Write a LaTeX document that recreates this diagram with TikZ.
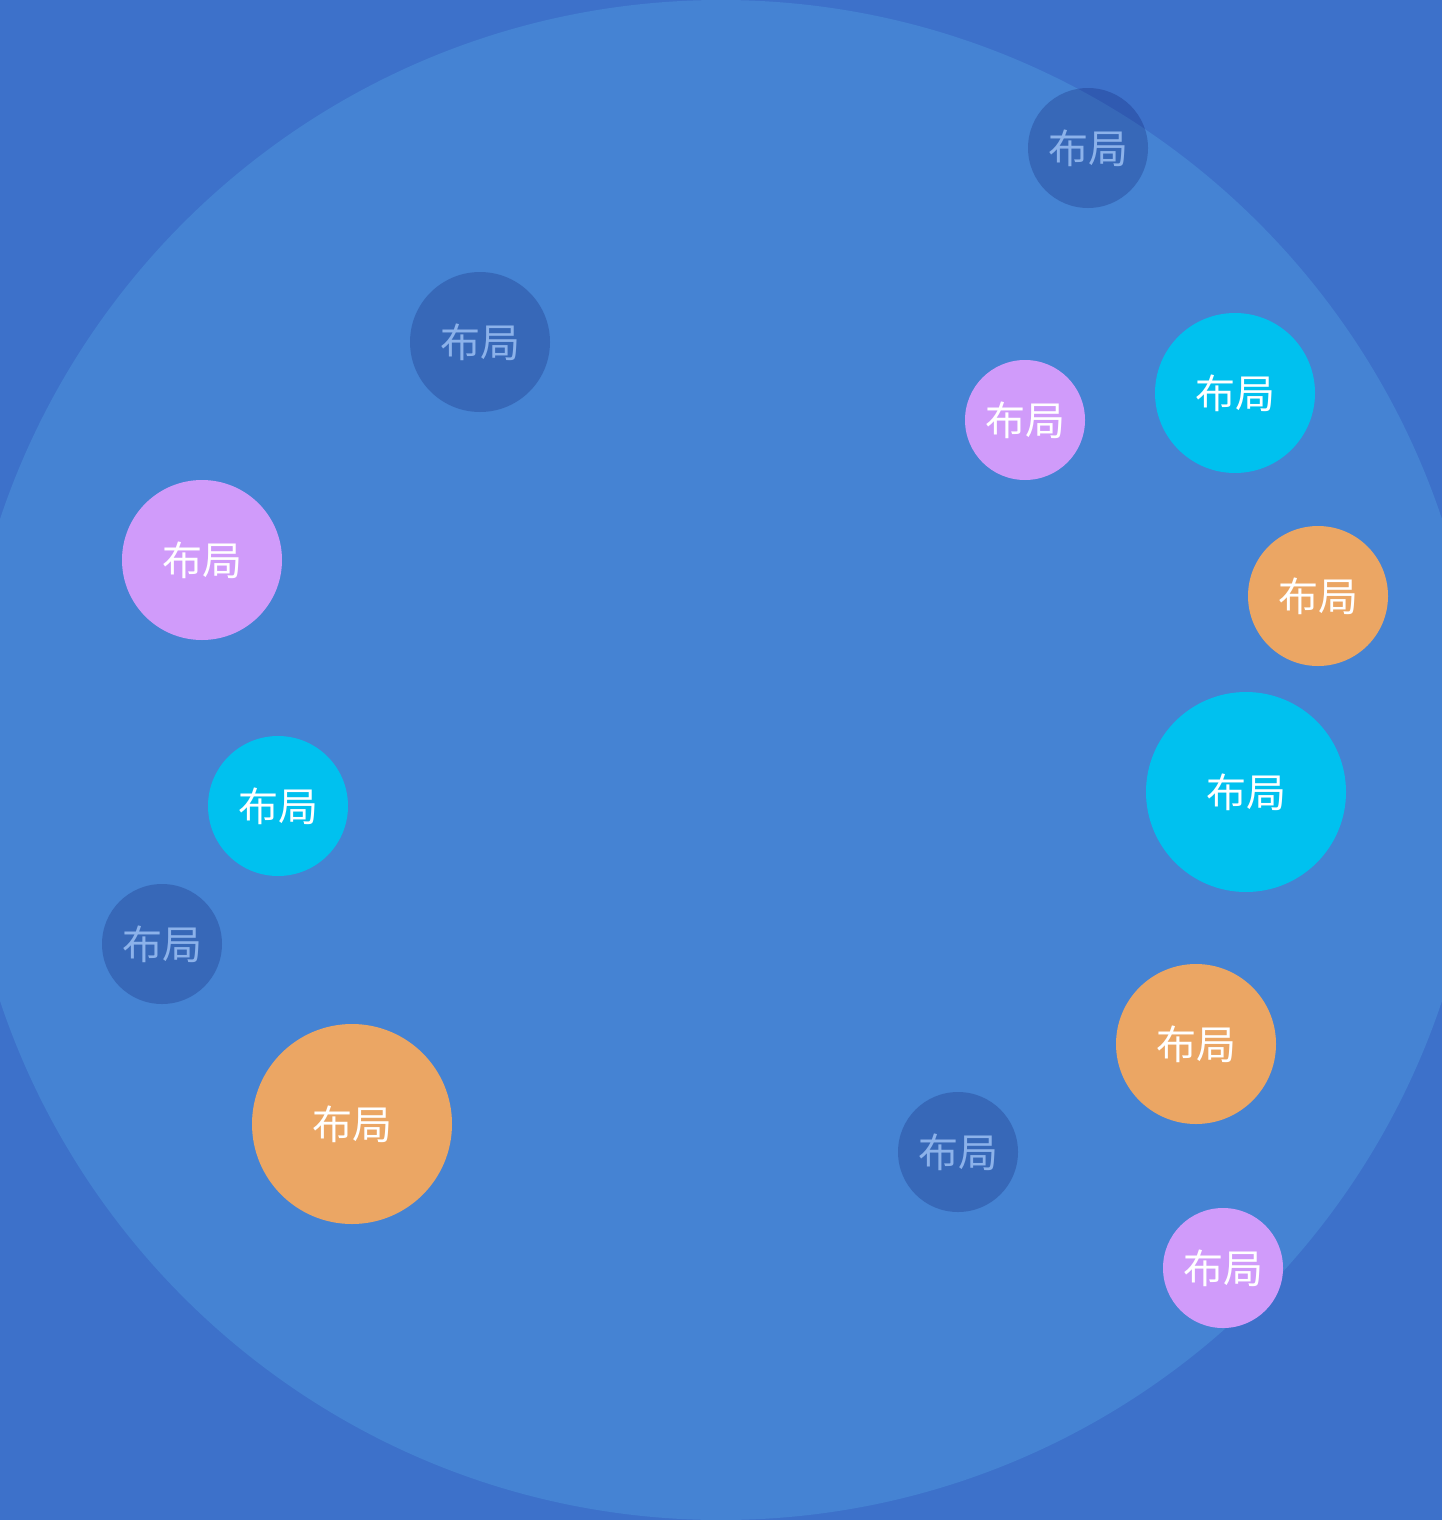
\documentclass[tikz,border=0pt]{standalone}
\usepackage{fontspec}
\usepackage{tikz}
\newfontfamily\cjk{Noto Sans CJK SC}
\definecolor{bgblue}{HTML}{3D71CA}
\definecolor{disc}{HTML}{4583D3}
\definecolor{lilac}{HTML}{D09BFA}
\definecolor{sky}{HTML}{00C1EF}
\definecolor{amber}{HTML}{EBA664}
\definecolor{duskink}{HTML}{8CB2EA}
\definecolor{navy}{HTML}{000050}
\begin{document}
\begin{tikzpicture}[x=1pt,y=-1pt,every node/.style={circle,inner sep=0pt,font=\cjk\fontsize{40}{48}\selectfont,text=white},lilacb/.style={fill=lilac,minimum size=#1},skyb/.style={fill=sky,minimum size=#1},amberb/.style={fill=amber,minimum size=#1},duskb/.style={fill=navy,fill opacity=0.2,text opacity=1,text=duskink,minimum size=#1}]
\useasboundingbox (0,0) rectangle (1442,1520);
\clip (0,0) rectangle (1442,1520);
\fill[bgblue] (0,0) rectangle (1442,1520);
\fill[disc] (721,760) circle (760);
\node (duskA) [duskb=120] at (1088,148) {布局};
\node (duskB) [duskb=140] at (480,342) {布局};
\node (lilacA) [lilacb=120] at (1025,420) {布局};
\node (skyA) [skyb=160] at (1235,393) {布局};
\node (lilacB) [lilacb=160] at (202,560) {布局};
\node (amberA) [amberb=140] at (1318,596) {布局};
\node (skyB) [skyb=200] at (1246,792) {布局};
\node (skyC) [skyb=140] at (278,806) {布局};
\node (duskC) [duskb=120] at (162,944) {布局};
\node (amberB) [amberb=200] at (352,1124) {布局};
\node (amberC) [amberb=160] at (1196,1044) {布局};
\node (duskD) [duskb=120] at (958,1152) {布局};
\node (lilacC) [lilacb=120] at (1223,1268) {布局};
\end{tikzpicture}
\end{document}
